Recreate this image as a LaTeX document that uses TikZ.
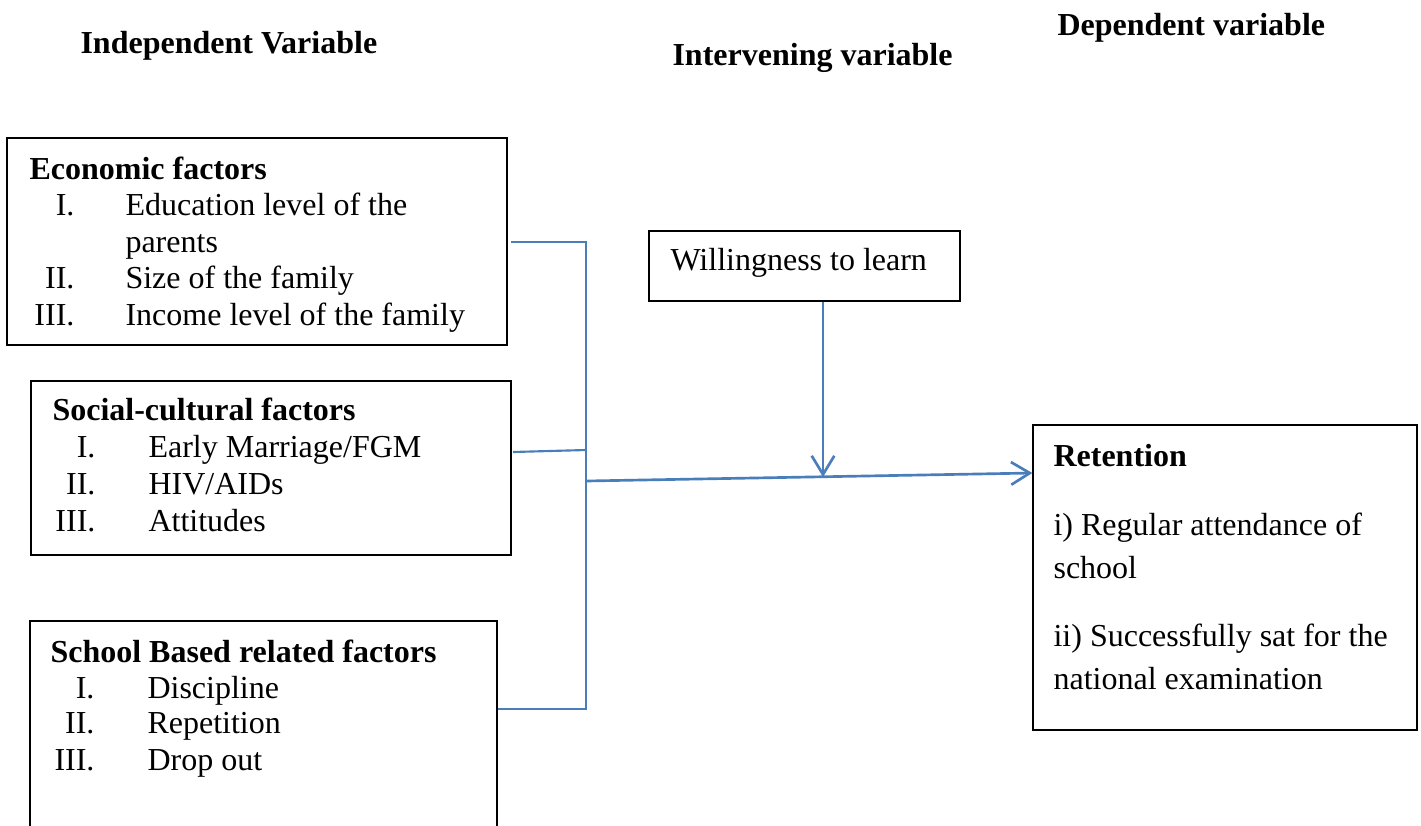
\documentclass[tikz,border=0pt]{standalone}
\usepackage{fontspec}
\setmainfont{Liberation Serif}
\usetikzlibrary{fit,arrows.meta}
\definecolor{conncol}{HTML}{4A7EBB}
\begin{document}
\begin{tikzpicture}[x=0.375pt,y=-0.375pt,
  box/.style={draw=black, line width=0.5pt, inner sep=0pt},
  txt/.style={anchor=base west, inner sep=0pt, font=\fontsize{12}{14}\selectfont},
  num/.style={anchor=base east, inner sep=0pt, font=\fontsize{12}{14}\selectfont},
  head/.style={anchor=base west, inner sep=0pt, font=\fontsize{12}{14}\selectfont\bfseries},
  conn/.style={draw=conncol, line width=0.8pt},
  arr/.style={draw=conncol, line width=1pt, -{Straight Barb[length=7pt,width=8.5pt]}}]
\useasboundingbox (0,0) rectangle (1421,825);
\fill[white] (0,0) rectangle (1421,825);

% headers
\node[head] (hind) at (80,53) {Independent Variable};
\node[head] (hint) at (672,65) {Intervening variable};
\node[head] (hdep) at (1057,35) {Dependent variable};

% box corners
\coordinate (e1) at (7,138);   \coordinate (e2) at (507,345);
\coordinate (s1) at (31,381);  \coordinate (s2) at (511,555);
\coordinate (c1) at (30,621);  \coordinate (c2) at (497,845);
\coordinate (w1) at (649,231); \coordinate (w2) at (960,301);
\coordinate (r1) at (1033,425);\coordinate (r2) at (1417,730);

\node[box, fit=(e1)(e2)] (econ) {};
\node[box, fit=(s1)(s2)] (soc) {};
\node[box, fit=(c1)(c2)] (school) {};
\node[box, fit=(w1)(w2)] (will) {};
\node[box, fit=(r1)(r2)] (ret) {};

% economic factors
\node[head] (et) at (29,179) {Economic factors};
\node[num] (en1) at (75,215) {I.};
\node[txt] (ei1) at (125,215) {Education level of the};
\node[txt] (ei1b) at (125,252) {parents};
\node[num] (en2) at (75,288) {II.};
\node[txt] (ei2) at (125,288) {Size of the family};
\node[num] (en3) at (75,325) {III.};
\node[txt] (ei3) at (125,325) {Income level of the family};

% social-cultural factors
\node[head] (st) at (52,420) {Social-cultural factors};
\node[num] (sn1) at (96,457) {I.};
\node[txt] (si1) at (148,457) {Early Marriage/FGM};
\node[num] (sn2) at (96,494) {II.};
\node[txt] (si2) at (148,494) {HIV/AIDs};
\node[num] (sn3) at (96,531) {III.};
\node[txt] (si3) at (148,531) {Attitudes};

% school based factors
\node[head] (ct) at (50,662) {School Based related factors};
\node[num] (cn1) at (95,698) {I.};
\node[txt] (ci1) at (147,698) {Discipline};
\node[num] (cn2) at (95,733) {II.};
\node[txt] (ci2) at (147,733) {Repetition};
\node[num] (cn3) at (95,770) {III.};
\node[txt] (ci3) at (147,770) {Drop out};

% willingness
\node[txt] (wt) at (670,270) {Willingness to learn};

% retention
\node[head] (rt) at (1053,466) {Retention};
\node[txt] (ri1) at (1053,535) {i) Regular attendance of};
\node[txt] (ri1b) at (1053,578) {school};
\node[txt] (ri2) at (1053,646) {ii) Successfully sat for the};
\node[txt] (ri2b) at (1053,689) {national examination};

% connector points
\coordinate (j1) at (586,242);
\coordinate (j2) at (586,450);
\coordinate (j3) at (586,481);
\coordinate (j4) at (586,709);
\coordinate (sy) at (513,452);
\coordinate (ey) at (511,242);
\coordinate (ry) at (0,473);
\coordinate (k) at (823,477);

\draw[conn] (ey) -- (j1) -- (j4) -- (school.east |- j4);
\draw[conn] (sy) -- (j2);
\draw[arr] (j3) -- (ret.west |- ry);
\draw[arr] (will.south -| k) -- (k);
\end{tikzpicture}
\end{document}
